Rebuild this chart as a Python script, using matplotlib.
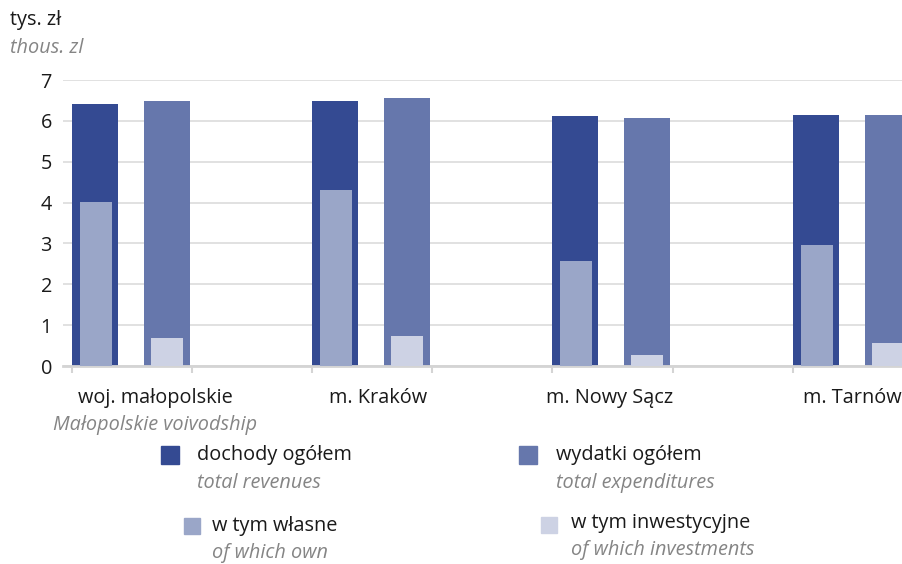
import matplotlib

matplotlib.use("Agg")
import matplotlib.pyplot as plt
from matplotlib.patches import Rectangle

plt.rcParams["font.family"] = ["Open Sans", "DejaVu Sans"]

# data (thous. zl)
regions = ["woj. małopolskie", "m. Kraków", "m. Nowy Sącz", "m. Tarnów"]
region_sub = ["Małopolskie voivodship", "", "", ""]
revenues = [6.41, 6.49, 6.12, 6.14]
own_revenues = [4.01, 4.31, 2.57, 2.96]
expenditures = [6.48, 6.56, 6.07, 6.14]
investments = [0.69, 0.73, 0.27, 0.56]

C_REV = "#344a92"
C_EXP = "#6677ac"
C_OWN = "#9aa6c8"
C_INV = "#cdd2e4"
TXT = "#1a1a1a"
GREY = "#858585"
FS = 14.3

W, H = 902, 564
fig = plt.figure(figsize=(W / 100, H / 100), dpi=100)


def fx(x):
    return x / W


def fy(y):
    return 1 - y / H


# axes: x in category units (1 category = 240 px), grid starts at 63 px
ax = fig.add_axes([fx(63), fy(366), 1 - fx(63), fy(80) - fy(366)])
unit = 240.2

xs = list(range(len(regions)))
bw = 46 / unit
iw = 32 / unit
exp_off = 72 / unit
ax.bar(xs, revenues, width=bw, align="edge", color=C_REV, zorder=2)
ax.bar([x + 8 / unit for x in xs], own_revenues, width=iw, align="edge", color=C_OWN, zorder=3)
ax.bar([x + exp_off for x in xs], expenditures, width=bw, align="edge", color=C_EXP, zorder=2)
ax.bar([x + exp_off + 7 / unit for x in xs], investments, width=iw, align="edge", color=C_INV, zorder=3)

ax.set_yticks(range(0, 8))
ax.yaxis.grid(True, color="#dcdcdc", linewidth=1.2, zorder=0)
ax.tick_params(axis="y", length=0, pad=8, labelsize=FS, labelcolor=TXT)
ax.set_xticks([i * 0.5 for i in range(7)])
ax.set_xticklabels([])
ax.tick_params(axis="x", length=5, width=1.5, color="#d4d4d4", direction="out")
ax.set_xlim(-9 / unit, (W - 72) / unit)
ax.set_ylim(0, 7)
for s in ["top", "right", "left"]:
    ax.spines[s].set_visible(False)
ax.spines["bottom"].set_color("#d4d4d4")
ax.spines["bottom"].set_linewidth(2)

# category labels
label_x = [0.346, 1.275, 2.238, 3.25]
for lx, name, sub in zip(label_x, regions, region_sub):
    ax.text(lx, -0.78, name, ha="center", va="center", fontsize=FS, color=TXT)
    if sub:
        ax.text(lx, -1.44, sub, ha="center", va="center", fontsize=FS,
                color=GREY, style="italic")

# unit labels
fig.text(fx(10), fy(20), "tys. zł", ha="left", va="center", fontsize=FS, color=TXT)
fig.text(fx(10), fy(48), "thous. zl", ha="left", va="center", fontsize=FS,
         color=GREY, style="italic")

# legend
legend = [
    (161, 446, 18, C_REV, 197, 455, "dochody ogółem", 483, "total revenues"),
    (519, 446, 18, C_EXP, 556, 455, "wydatki ogółem", 483, "total expenditures"),
    (184, 518, 16, C_OWN, 212, 526, "w tym własne", 553, "of which own"),
    (541, 517, 16, C_INV, 571, 523, "w tym inwestycyjne", 550, "of which investments"),
]
for sx, sy, ss, col, tx, ty, pl, ey, en in legend:
    fig.add_artist(Rectangle((fx(sx), fy(sy + ss)), ss / W, ss / H,
                             transform=fig.transFigure, color=col))
    fig.text(fx(tx), fy(ty), pl, ha="left", va="center", fontsize=FS, color=TXT)
    fig.text(fx(tx), fy(ey), en, ha="left", va="center", fontsize=FS,
             color=GREY, style="italic")

fig.savefig("out.png", dpi=100)
